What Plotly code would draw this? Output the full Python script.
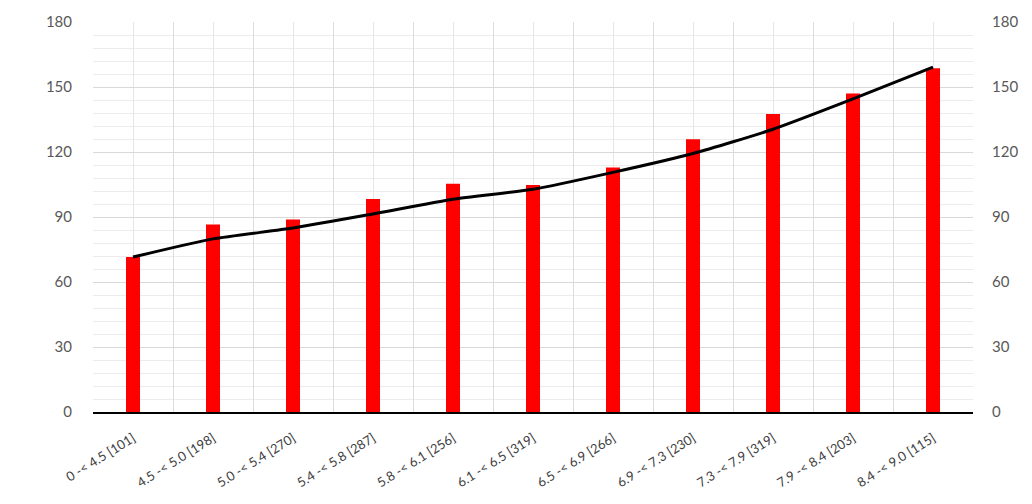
import plotly.graph_objects as go

# Class intervals with sample counts
categories = [
    "0 -< 4.5 [101]", "4.5 -< 5.0 [198]", "5.0 -< 5.4 [270]", "5.4 -< 5.8 [287]",
    "5.8 -< 6.1 [256]", "6.1 -< 6.5 [319]", "6.5 -< 6.9 [266]", "6.9 -< 7.3 [230]",
    "7.3 -< 7.9 [319]", "7.9 -< 8.4 [203]", "8.4 -< 9.0 [115]",
]
bar_values = [71.5, 86.5, 88.8, 98.3, 105.3, 104.8, 112.9, 125.9, 137.5, 147.0, 158.6]
line_values = [71.5, 79.9, 84.9, 91.4, 98.2, 102.8, 110.6, 119.3, 130.5, 144.5, 159.2]
y_ticks = [0, 30, 60, 90, 120, 150, 180]

font_family = "Lato, 'Open Sans', Arial, sans-serif"
tick_gray = "#595959"
n = len(categories)

fig = go.Figure()
fig.add_trace(go.Bar(
    x=categories, y=bar_values,
    marker=dict(color="#ff0000", line=dict(width=0)),
    showlegend=False,
))
fig.add_trace(go.Scatter(
    x=categories, y=line_values, mode="lines",
    line=dict(color="#000000", width=3, shape="spline", smoothing=0.6),
    showlegend=False,
))
# Invisible overlay axis giving gridlines on category boundaries
fig.add_trace(go.Scatter(
    x=[0], y=[0], xaxis="x2", yaxis="y2", mode="markers",
    marker=dict(opacity=0), hoverinfo="skip", showlegend=False,
))

fig.update_layout(
    width=1032, height=504,
    margin=dict(l=93, r=59, t=19, b=92),
    paper_bgcolor="white", plot_bgcolor="white",
    bargap=0.825,
    font=dict(family=font_family, color=tick_gray),
    xaxis=dict(
        type="category",
        showgrid=True, gridcolor="#e6e6e6", gridwidth=1,
        showline=True, linecolor="#000000", linewidth=1.5,
        ticks="", tickangle=-32, automargin=False,
        ticklabelstandoff=12,
        tickfont=dict(size=13, color="#404040"),
        range=[-0.5, n - 0.5],
    ),
    xaxis2=dict(
        overlaying="x", range=[-0.5, n - 0.5],
        tickvals=[i - 0.5 for i in range(n + 1)],
        showticklabels=False, ticks="",
        showgrid=True, gridcolor="#dcdcdc", gridwidth=1,
        zeroline=False, showline=False,
    ),
    yaxis=dict(
        range=[0, 180], tickvals=y_ticks,
        showgrid=True, gridcolor="#d9d9d9", gridwidth=1,
        minor=dict(dtick=6, showgrid=True, gridcolor="#ececec", gridwidth=1),
        zeroline=False, showline=False, ticks="",
        ticklabelstandoff=20,
        tickfont=dict(size=15, color=tick_gray),
    ),
    yaxis2=dict(
        overlaying="y", side="right", range=[0, 180], tickvals=y_ticks,
        showgrid=False, zeroline=False, showline=False, ticks="",
        ticklabelstandoff=18,
        tickfont=dict(size=15, color=tick_gray),
    ),
)

fig.write_html("out.html")
